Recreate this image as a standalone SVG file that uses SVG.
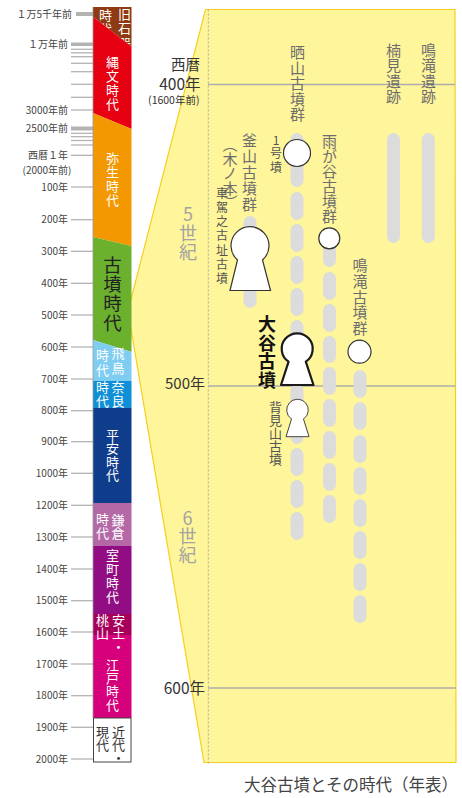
<svg xmlns="http://www.w3.org/2000/svg" width="462" height="798" viewBox="0 0 462 798">
<style>
text{font-family:"Noto Sans CJK JP","Noto Sans",sans-serif}
.v{writing-mode:vertical-rl}
.up{text-orientation:upright}
.tk{stroke:#b3b3b3;stroke-width:1.3}
.tl{font-size:10px;fill:#444;text-anchor:end}
.w{fill:#fff;font-size:13px}
.dk{fill:#333;font-size:13px}
.g{fill:#6e6e6e;font-size:15px}
.s{fill:#555}
.pill{fill:#dcdcdc}
.hl{stroke:#adadad;stroke-width:1.5}
.yr{fill:#333;text-anchor:end}
.cent{fill:#a3a3a3;font-size:18px}
.kh{fill:#fff;stroke:#333;stroke-width:1.2}
</style>
<rect width="462" height="798" fill="#fff"/>

<g id="panel">
<polygon points="205.5,9.5 455,9.5 456,762.5 204,762.5 128,311" fill="#fff59b" stroke="#f5cf1f" stroke-width="1.2"/>
<line x1="208.3" y1="9.5" x2="208.3" y2="765" stroke="#a8a8a8" stroke-width="1" stroke-dasharray="2 2"/>
<line class="hl" x1="208" y1="84.5" x2="455" y2="84.5"/>
<line class="hl" x1="208" y1="386" x2="455.5" y2="386"/>
<line class="hl" x1="208" y1="688" x2="456" y2="688"/>
<text class="yr" x="200" y="69.5" font-size="14.5">西暦</text>
<text class="yr" x="200.5" y="90" font-size="15.5">400年</text>
<text class="yr" x="199.5" y="103.5" font-size="10.5">(1600年前)</text>
<text class="yr" x="205" y="389" font-size="15">500年</text>
<text class="yr" x="205" y="694" font-size="15.5">600年</text>
<text class="v up cent" x="188" y="205" style="letter-spacing:1px">5世紀</text>
<text class="v up cent" x="187.5" y="509" style="letter-spacing:0.5px">6世紀</text>
</g>

<g id="connectors">
<g id="bars-hatayama">
<rect class="pill" x="290.5" y="133" width="13" height="54" rx="6.5"/>
<rect class="pill" x="290.5" y="192" width="13" height="28" rx="6.5"/>
<rect class="pill" x="290.5" y="224" width="13" height="28" rx="6.5"/>
<rect class="pill" x="290.5" y="256" width="13" height="28" rx="6.5"/>
<rect class="pill" x="290.5" y="288" width="13" height="28" rx="6.5"/>
<rect class="pill" x="290.5" y="320" width="13" height="28" rx="6.5"/>
<rect class="pill" x="290.5" y="352" width="13" height="28" rx="6.5"/>
<rect class="pill" x="290.5" y="384" width="13" height="28" rx="6.5"/>
<rect class="pill" x="290.5" y="416" width="13" height="28" rx="6.5"/>
<rect class="pill" x="290.5" y="448" width="13" height="28" rx="6.5"/>
<rect class="pill" x="290.5" y="480" width="13" height="28" rx="6.5"/>
<rect class="pill" x="290.5" y="512" width="13" height="28" rx="6.5"/>
</g>
<g id="bars-kamayama">
<rect class="pill" x="243.5" y="216" width="13" height="92" rx="6.5"/>
</g>
<g id="bars-amagatani">
<rect class="pill" x="323" y="232" width="13" height="35" rx="6.5"/>
<rect class="pill" x="323" y="272" width="13" height="28" rx="6.5"/>
<rect class="pill" x="323" y="304" width="13" height="28" rx="6.5"/>
<rect class="pill" x="323" y="336" width="13" height="27" rx="6.5"/>
<rect class="pill" x="323" y="367" width="13" height="28" rx="6.5"/>
<rect class="pill" x="323" y="399" width="13" height="28" rx="6.5"/>
<rect class="pill" x="323" y="431" width="13" height="28" rx="6.5"/>
<rect class="pill" x="323" y="463" width="13" height="28" rx="6.5"/>
<rect class="pill" x="323" y="495" width="13" height="28" rx="6.5"/>
</g>
<g id="bars-narutaki-kofun">
<rect class="pill" x="353.5" y="370" width="13" height="28" rx="6.5"/>
<rect class="pill" x="353.5" y="402" width="13" height="28" rx="6.5"/>
<rect class="pill" x="353.5" y="435" width="13" height="28" rx="6.5"/>
<rect class="pill" x="353.5" y="467" width="13" height="28" rx="6.5"/>
<rect class="pill" x="353.5" y="499" width="13" height="28" rx="6.5"/>
<rect class="pill" x="353.5" y="531" width="13" height="28" rx="6.5"/>
<rect class="pill" x="353.5" y="563" width="13" height="28" rx="6.5"/>
<rect class="pill" x="353.5" y="595" width="13" height="28" rx="6.5"/>
</g>
<g id="bars-kusumi">
<rect class="pill" x="387" y="133" width="13" height="110" rx="6.5"/>
</g>
<g id="bars-narutaki-iseki">
<rect class="pill" x="421.8" y="133" width="13" height="110" rx="6.5"/>
</g>
</g>

<g id="hatayama">
<text class="v g" x="297.5" y="45" style="letter-spacing:0.5px">晒山古墳群</text>
<circle class="kh" cx="297" cy="153" r="13.5"/>
<text class="v up s" x="276" y="134" font-size="12" style="letter-spacing:1.5px">1号墳</text>
</g>
<g id="kusumi">
<text class="v g" x="393.5" y="43" style="letter-spacing:0.3px">楠見遺跡</text>
</g>
<g id="narutaki-iseki">
<text class="v g" x="428.5" y="43" style="letter-spacing:0.3px">鳴滝遺跡</text>
</g>
<g id="kamayama">
<text class="v g" x="249.5" y="133" style="letter-spacing:1px">釜山古墳群</text>
<text class="v g" x="230" y="137" font-size="13" style="letter-spacing:-0.5px">（木ノ本）</text>
<text class="v s" x="222" y="187.3" font-size="12" style="letter-spacing:2.2px">車駕之古址古墳</text>
<path class="kh" d="M230,290.5 L237.5,260 A19,19 0 1 1 262.5,260 L270.5,290.5 Z"/>
</g>
<g id="amagatani">
<text class="v g" x="329.5" y="134">雨が谷古墳群</text>
<circle class="kh" cx="329.3" cy="238.3" r="10.5"/>
</g>
<g id="narutaki-kofun">
<text class="v g" x="360" y="258.3" style="letter-spacing:0.6px">鳴滝古墳群</text>
<circle class="kh" cx="359.5" cy="351.7" r="11.5"/>
</g>
<g id="otani">
<text class="v" x="267" y="315" font-size="18" font-weight="bold" fill="#111" style="letter-spacing:0.7px">大谷古墳</text>
<path d="M281,385 L288.6,361.7 A15.5,15.5 0 1 1 305.8,361.7 L313.5,385 Z" fill="#fff" stroke="#1a1a1a" stroke-width="2.2" stroke-linejoin="round"/>
</g>
<g id="semiyama">
<text class="v s" x="275.5" y="401" font-size="13">背見山古墳</text>
<path d="M286,436.7 L291.5,419 A10.8,10.8 0 1 1 303.5,419 L309,436.7 Z" fill="#fff" stroke="#444" stroke-width="1"/>
</g>

<g id="ticks">
<rect x="76" y="12" width="17" height="4" fill="#b3b3b3"/>
<rect x="71" y="42.5" width="22" height="3.5" fill="#b3b3b3"/>
<line class="tk" x1="71" y1="49.3" x2="93" y2="49.3"/>
<line class="tk" x1="71" y1="52.8" x2="93" y2="52.8"/>
<line class="tk" x1="71" y1="56.7" x2="93" y2="56.7"/>
<line class="tk" x1="71" y1="63.3" x2="93" y2="63.3"/>
<line class="tk" x1="71" y1="71.7" x2="93" y2="71.7"/>
<line class="tk" x1="71" y1="84.3" x2="93" y2="84.3"/>
<line class="tk" x1="71" y1="97.3" x2="93" y2="97.3"/>
<line class="tk" x1="71" y1="110" x2="93" y2="110"/>
<rect x="71" y="126.5" width="22" height="4" fill="#b3b3b3"/>
<line class="tk" x1="71" y1="133.3" x2="93" y2="133.3"/>
<line class="tk" x1="71" y1="136.7" x2="93" y2="136.7"/>
<line class="tk" x1="71" y1="140.5" x2="93" y2="140.5"/>
<line class="tk" x1="71" y1="145" x2="93" y2="145"/>
<line class="tk" x1="71" y1="155.3" x2="93" y2="155.3"/>
<line class="tk" x1="71" y1="187" x2="93" y2="187"/>
<line class="tk" x1="71" y1="219.7" x2="93" y2="219.7"/>
<line class="tk" x1="71" y1="251.3" x2="93" y2="251.3"/>
<line class="tk" x1="71" y1="283.3" x2="93" y2="283.3"/>
<line class="tk" x1="71" y1="315" x2="93" y2="315"/>
<line class="tk" x1="71" y1="347" x2="93" y2="347"/>
<line class="tk" x1="71" y1="379" x2="93" y2="379"/>
<line class="tk" x1="71" y1="410.7" x2="93" y2="410.7"/>
<line class="tk" x1="71" y1="441.7" x2="93" y2="441.7"/>
<line class="tk" x1="71" y1="473.3" x2="93" y2="473.3"/>
<line class="tk" x1="71" y1="505.3" x2="93" y2="505.3"/>
<line class="tk" x1="71" y1="537" x2="93" y2="537"/>
<line class="tk" x1="71" y1="569" x2="93" y2="569"/>
<line class="tk" x1="71" y1="600.7" x2="93" y2="600.7"/>
<line class="tk" x1="71" y1="632" x2="93" y2="632"/>
<line class="tk" x1="71" y1="664" x2="93" y2="664"/>
<line class="tk" x1="71" y1="695.7" x2="93" y2="695.7"/>
<line class="tk" x1="71" y1="727.3" x2="93" y2="727.3"/>
<line class="tk" x1="71" y1="759" x2="93" y2="759"/>
<text class="tl" x="72" y="17.5">１万5千年前</text>
<text class="tl" x="68" y="48">１万年前</text>
<text class="tl" x="68" y="113.5">3000年前</text>
<text class="tl" x="68" y="131.5">2500年前</text>
<text class="tl" x="68" y="159">西暦１年</text>
<text class="tl" x="71.5" y="173.5">(2000年前)</text>
<text class="tl" x="68" y="190.5">100年</text>
<text class="tl" x="68" y="223">200年</text>
<text class="tl" x="68" y="254.8">300年</text>
<text class="tl" x="68" y="286.8">400年</text>
<text class="tl" x="68" y="318.5">500年</text>
<text class="tl" x="68" y="350.5">600年</text>
<text class="tl" x="68" y="382.5">700年</text>
<text class="tl" x="68" y="414.2">800年</text>
<text class="tl" x="68" y="445.2">900年</text>
<text class="tl" x="68" y="476.8">1000年</text>
<text class="tl" x="68" y="508.8">1200年</text>
<text class="tl" x="68" y="540.5">1300年</text>
<text class="tl" x="68" y="572.5">1400年</text>
<text class="tl" x="68" y="604.2">1500年</text>
<text class="tl" x="68" y="635.5">1600年</text>
<text class="tl" x="68" y="667.5">1700年</text>
<text class="tl" x="68" y="699.2">1800年</text>
<text class="tl" x="68" y="730.8">1900年</text>
<text class="tl" x="68" y="762.5">2000年</text>
</g>

<g id="era-paleolithic">
<polygon points="93,7 131.5,7 131.5,46.5 93,16.7" fill="#8e3a12"/>
<text class="v w" x="124.5" y="7.5" style="letter-spacing:1.5px">旧石器</text>
<text class="v w" x="105.5" y="8.5" style="letter-spacing:1px">時代</text>
</g>
<g id="era-jomon">
<polygon points="93,16.7 131.5,46.5 131.5,129 93,113" fill="#e60012"/>
<text class="v w" x="112.5" y="55.5" style="letter-spacing:1px">縄文時代</text>
</g>
<g id="era-yayoi">
<polygon points="93,113 131.5,129 131.5,246 93,237" fill="#f39800"/>
<text class="v w" x="112.5" y="152" style="letter-spacing:1px">弥生時代</text>
</g>
<g id="era-kofun">
<polygon points="93,237 131.5,246 131.5,352 93,340" fill="#6bb12e"/>
<text class="v" x="112.5" y="256" font-size="18.5" fill="#222" style="letter-spacing:0.6px">古墳時代</text>
</g>
<g id="era-asuka">
<polygon points="93,340 131.5,352 131.5,381 93,381" fill="#80cdf2"/>
<text class="v w" x="118" y="347" style="letter-spacing:2px">飛鳥</text>
<text class="v w" x="102.5" y="348.5" style="letter-spacing:2px">時代</text>
</g>
<g id="era-nara">
<rect x="93" y="381" width="38.5" height="27" fill="#0f8fd6"/>
<text class="v w" x="118" y="380.5" style="letter-spacing:1px">奈良</text>
<text class="v w" x="102.5" y="380.5" style="letter-spacing:1px">時代</text>
</g>
<g id="era-heian">
<rect x="93" y="408" width="38.5" height="95" fill="#103c8c"/>
<text class="v w" x="112.5" y="428.5" style="letter-spacing:0.5px">平安時代</text>
</g>
<g id="era-kamakura">
<rect x="93" y="503" width="38.5" height="43" fill="#b468a6"/>
<text class="v w" x="118" y="513.5" style="letter-spacing:0.5px">鎌倉</text>
<text class="v w" x="102.5" y="513" style="letter-spacing:0.5px">時代</text>
</g>
<g id="era-muromachi">
<rect x="93" y="546" width="38.5" height="68" fill="#920d83"/>
<text class="v w" x="112.5" y="548.5" style="letter-spacing:1px">室町時代</text>
</g>
<g id="era-azuchimomoyama">
<rect x="93" y="614" width="38.5" height="21" fill="#a6005b"/>
</g>
<g id="era-edo">
<rect x="93" y="635" width="38.5" height="83" fill="#d6007d"/>
<text class="v w" x="118.5" y="613.5" style="letter-spacing:0.3px">安土・</text>
<text class="v w" x="102.5" y="613.5" style="letter-spacing:0.3px">桃山</text>
<text class="v w" x="112.5" y="658.5" style="letter-spacing:0.2px">江戸時代</text>
</g>
<g id="era-modern">
<rect x="93.5" y="718" width="37.5" height="44" fill="#fff" stroke="#444" stroke-width="1"/>
<text class="v dk" x="118.5" y="726">近代・</text>
<text class="v dk" x="102.5" y="726">現代</text>
</g>
<line x1="93" y1="7" x2="93" y2="718" stroke="#999" stroke-width="0.8"/>

<g id="caption">
<text x="458" y="791" font-size="16.5" fill="#444" text-anchor="end">大谷古墳とその時代（年表）</text>
</g>
</svg>
